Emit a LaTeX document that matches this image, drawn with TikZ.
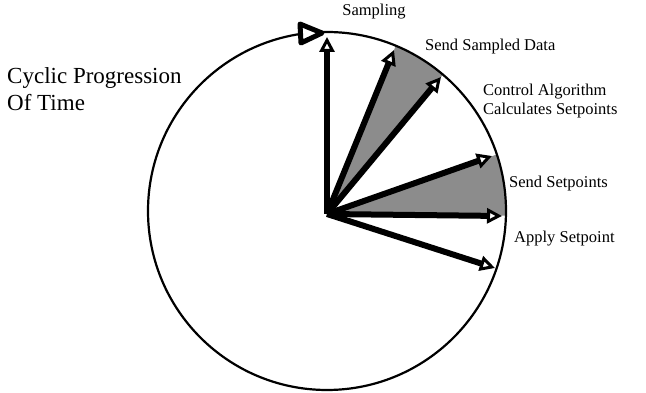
\documentclass[tikz,border=0pt]{standalone}
\usepackage{fontspec}
\setmainfont{Liberation Serif}
\usetikzlibrary{arrows.meta,calc}
\tikzset{
  ray/.style={line width=6pt, -{Triangle[fill=white, length=15pt, width=15pt, line width=3pt]}},
  lab/.style={inner sep=0pt, font=\fontsize{16.5}{19}\selectfont, align=left},
  biglab/.style={inner sep=0pt, font=\fontsize{23}{27}\selectfont, align=left},
  shade/.style={fill=black!45}
}
\begin{document}
\begin{tikzpicture}[x=1pt,y=1pt]
\useasboundingbox[fill=white] (0,0) rectangle (646,393);
\coordinate (O) at (327,182);
\node[inner sep=0pt, minimum size=0pt] (C) at (327,179) {};
\coordinate (T1) at (327,356);
\coordinate (T2) at (394,343);
\coordinate (T3) at (441,316);
\coordinate (T4) at (492,237);
\coordinate (T5) at (502,177);
\coordinate (T6) at (495,125);
% shaded sectors
\fill[shade] (C.center) -- ($(O)+(67.4:179)$) arc[start angle=67.4, end angle=49.6, radius=179] -- cycle;
\fill[shade] (C.center) -- ($(O)+(18.4:179)$) arc[start angle=18.4, end angle=-1.5, radius=179] -- cycle;
% circle
\draw[line width=2.2pt] (O) circle[radius=179];
% direction arrowhead on circle
\draw[line width=5pt, line join=round, fill=white] (300,369) -- (301,350) -- (322,360) -- cycle;
% rays
\foreach \t in {T1,T2,T3,T4,T5,T6} {
  \draw[ray] (C.center) -- (\t);
}
% labels
\node[lab] (s1) at (374,381) {Sampling};
\node[lab, anchor=west] (s2) at (425,346) {Send Sampled Data};
\node[lab, anchor=west] (s3) at (483,292) {Control Algorithm\\Calculates Setpoints};
\node[lab, anchor=west] (s4) at (509,209) {Send Setpoints};
\node[lab, anchor=west] (s5) at (514,154) {Apply Setpoint};
\node[biglab, anchor=west] (cy) at (7,303.5) {Cyclic Progression\\Of Time};
\end{tikzpicture}
\end{document}
